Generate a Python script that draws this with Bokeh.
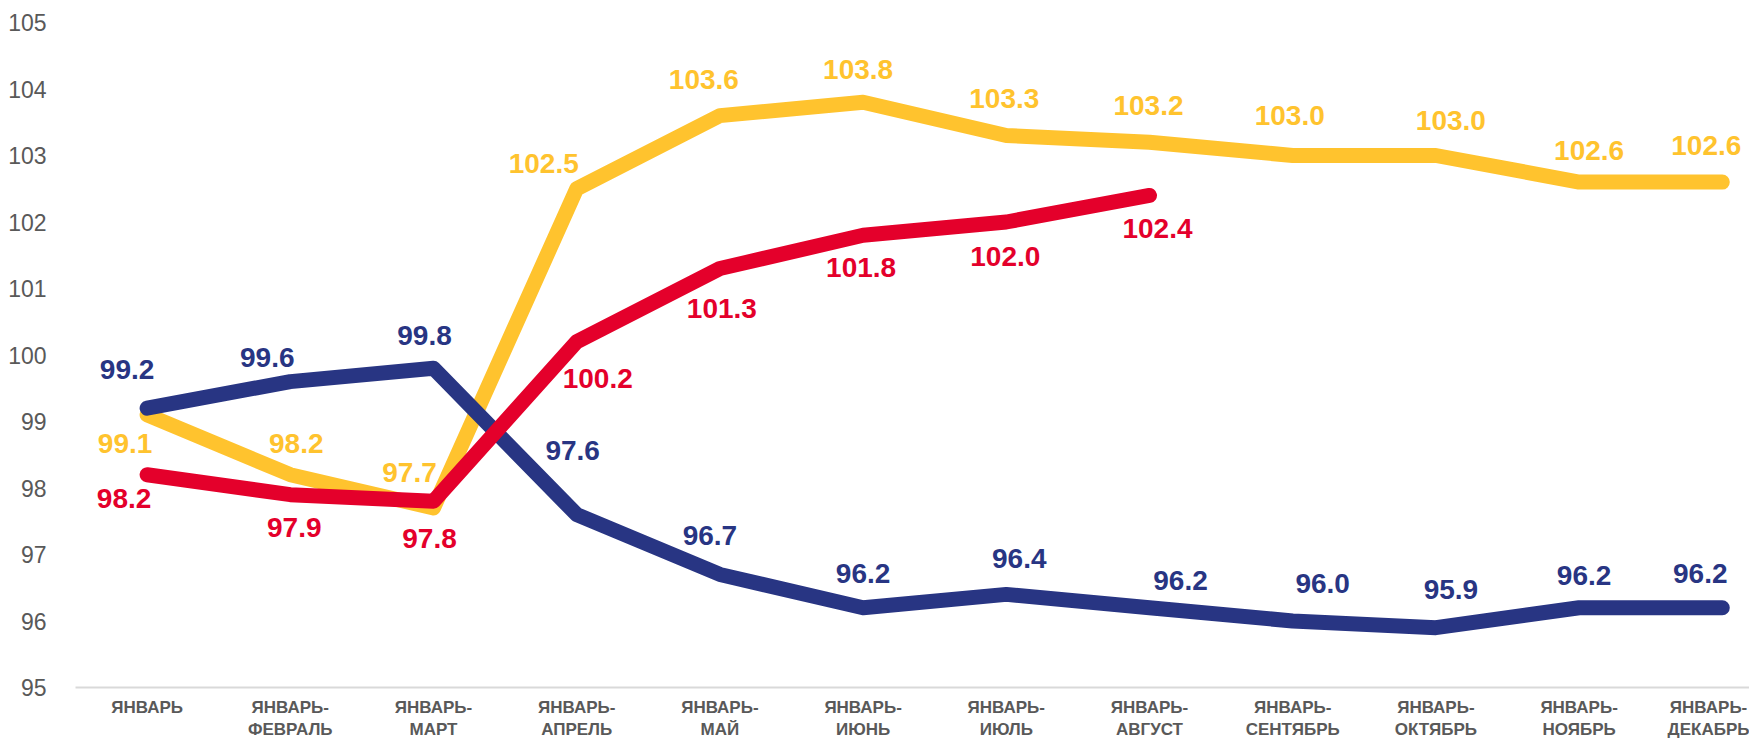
from bokeh.plotting import figure
from bokeh.models import ColumnDataSource, Range1d, FixedTicker
from bokeh.embed import file_html
from bokeh.resources import INLINE

categories = ["ЯНВАРЬ", "ЯНВАРЬ-\nФЕВРАЛЬ", "ЯНВАРЬ-\nМАРТ", "ЯНВАРЬ-\nАПРЕЛЬ", "ЯНВАРЬ-\nМАЙ",
              "ЯНВАРЬ-\nИЮНЬ", "ЯНВАРЬ-\nИЮЛЬ", "ЯНВАРЬ-\nАВГУСТ", "ЯНВАРЬ-\nСЕНТЯБРЬ",
              "ЯНВАРЬ-\nОКТЯБРЬ", "ЯНВАРЬ-\nНОЯБРЬ", "ЯНВАРЬ-\nДЕКАБРЬ"]
yellow = [99.1, 98.2, 97.7, 102.5, 103.6, 103.8, 103.3, 103.2, 103.0, 103.0, 102.6, 102.6]
blue = [99.2, 99.6, 99.8, 97.6, 96.7, 96.2, 96.4, 96.2, 96.0, 95.9, 96.2, 96.2]
red = [98.2, 97.9, 97.8, 100.2, 101.3, 101.8, 102.0, 102.4]
y_ticks = [95, 96, 97, 98, 99, 100, 101, 102, 103, 104, 105]

# label offsets (pixels, dx right, dy up)
yellow_dx = [-22, 6, -24, -33, -16, -5, -2, -1, -3, 15, 10, -16]
yellow_dy = [-29, 31, 35, 25, 36, 33, 37, 37, 40, 35, 32, 37]
blue_dx = [-20, -23, -9, -4, -10, 0, 13, 31, 30, 15, 5, -22]
blue_dy = [39, 24, 33, 64, 39, 34, 36, 27, 38, 38, 32, 34]
red_dx = [-23, 4, -4, 21, 2, -2, -1, 8]
red_dy = [-24, -33, -37, -37, -40, -32, -34, -33]

C_YELLOW = "#FFC32E"
C_BLUE = "#283583"
C_RED = "#E4002B"

p = figure(frame_width=1674, frame_height=665, output_backend="svg", toolbar_location=None,
           x_range=Range1d(-0.5, 11.19), y_range=Range1d(95, 105),
           min_border_left=75, min_border_right=0, min_border_top=22, min_border_bottom=0)
p.outline_line_color = None
p.grid.visible = False
p.background_fill_color = "white"

series = [(yellow, C_YELLOW, yellow_dx, yellow_dy),
          (blue, C_BLUE, blue_dx, blue_dy),
          (red, C_RED, red_dx, red_dy)]

sources = []
for vals, col, dx, dy in series:
    xs = list(range(len(vals)))
    src = ColumnDataSource(dict(x=xs, y=vals, lbl=[f"{v:.1f}" for v in vals],
                                xo=dx, yo=[-d for d in dy]))
    sources.append((src, col))
    p.line("x", "y", source=src, line_color=col, line_width=15, line_cap="round", line_join="round")

for src, col in sources:
    p.text("x", "y", text="lbl", source=src, x_offset="xo", y_offset="yo",
           text_color=col, text_font_size="28px", text_font_style="bold",
           text_align="center", text_baseline="middle", text_font={"value": "Liberation Sans"})

p.yaxis.ticker = FixedTicker(ticks=y_ticks)
p.yaxis.axis_line_color = None
p.yaxis.major_tick_line_color = None
p.yaxis.minor_tick_line_color = None
p.yaxis.major_label_text_font = "Liberation Sans"
p.yaxis.major_label_text_font_size = "23px"
p.yaxis.major_label_text_color = "#595959"
p.yaxis.major_label_standoff = 23

p.xaxis.ticker = FixedTicker(ticks=list(range(len(categories))))
p.xaxis.major_label_overrides = {i: c for i, c in enumerate(categories)}
p.xaxis.axis_line_color = "#D9D9D9"
p.xaxis.axis_line_width = 2
p.xaxis.major_tick_line_color = None
p.xaxis.minor_tick_line_color = None
p.xaxis.major_label_text_font = "Liberation Sans"
p.xaxis.major_label_text_font_style = "bold"
p.xaxis.major_label_text_font_size = "17px"
p.xaxis.major_label_text_line_height = 1.2
p.xaxis.major_label_text_color = "#595959"
p.xaxis.major_label_standoff = 4

open("out.html", "w").write(file_html(p, INLINE))
